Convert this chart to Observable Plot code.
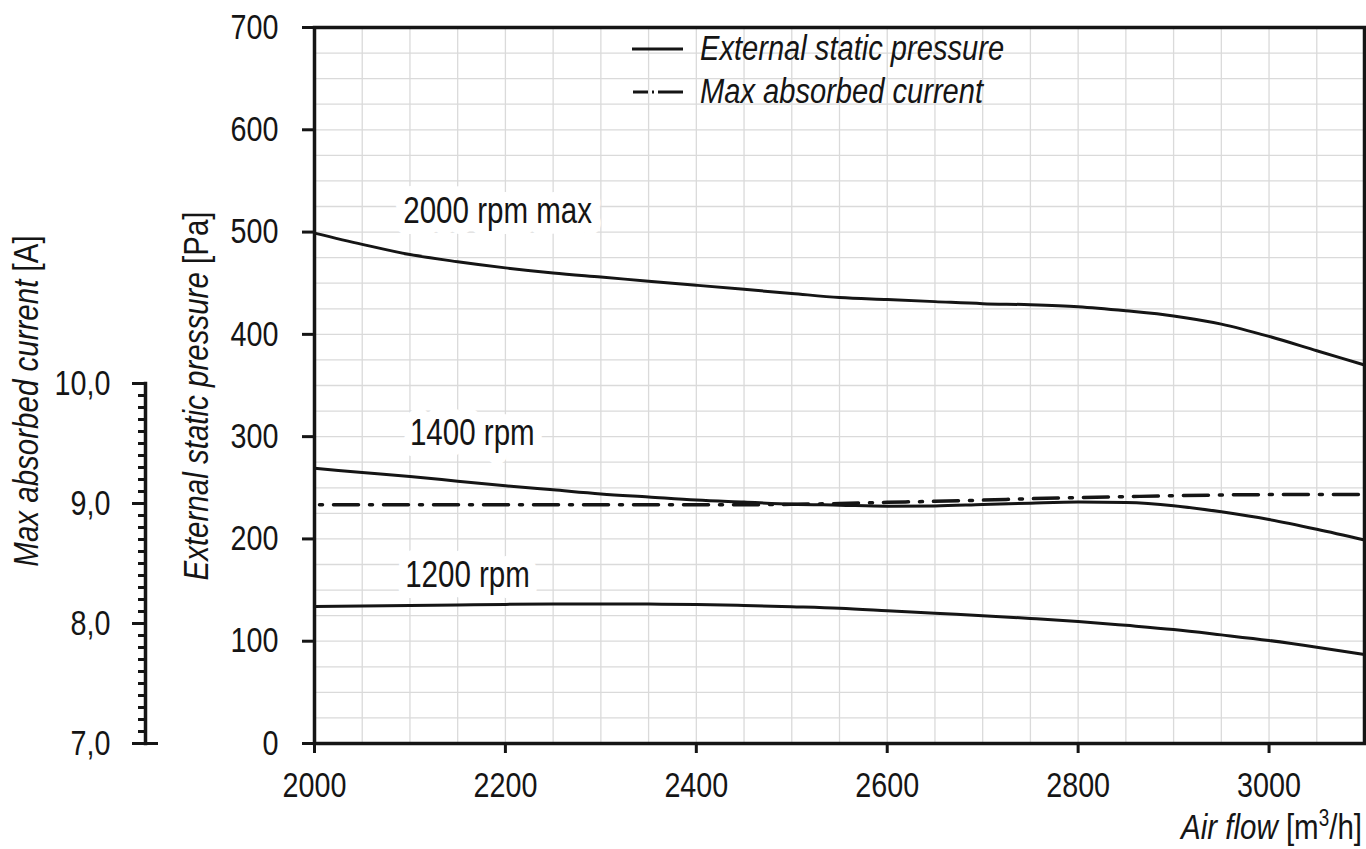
<!DOCTYPE html>
<html><head><meta charset="utf-8">
<script src="https://cdn.jsdelivr.net/npm/d3@7"></script>
<script src="https://cdn.jsdelivr.net/npm/@observablehq/plot@0.6"></script>
<style>
html,body{margin:0;padding:0;background:#fff;overflow:hidden;}
#wrap{position:relative;width:1366px;height:849px;}
#wrap svg{position:absolute;left:0;top:0;}
</style></head><body><div id="wrap"></div>
<script>
const FONT = '"Liberation Sans",Arial,Helvetica,sans-serif';
const CONDENSE = 0.82;

// Air flow [m3/h]
const airflow = [2000, 2050, 2100, 2150, 2200, 2250, 2300, 2350, 2400, 2450, 2500, 2550, 2600, 2650, 2700, 2750, 2800, 2850, 2900, 2950, 3000, 3050, 3100];
// External static pressure [Pa]
const pressure2000 = [499, 488, 478, 471, 465, 460, 456, 452, 448, 444, 440, 436, 434, 432, 430, 429, 427, 423, 418, 410, 398, 384, 370];
const pressure1400 = [269, 265, 261, 256.5, 252, 248, 244, 241, 238, 236, 234, 233, 232, 232.3, 233.7, 235, 236, 235.5, 232.5, 226.5, 219, 209.5, 199];
const pressure1200 = [134, 134.5, 135, 135.5, 136, 136.3, 136.5, 136.3, 136, 135, 133.7, 132.2, 129.8, 127.3, 125, 122.3, 119.3, 115.5, 111.4, 106.2, 100.7, 94.2, 87];
// Max absorbed current [A]
const currentMax = [8.99, 8.99, 8.99, 8.99, 8.99, 8.99, 8.99, 8.99, 8.99, 8.99, 8.993, 9.0, 9.01, 9.018, 9.028, 9.04, 9.049, 9.057, 9.065, 9.071, 9.074, 9.075, 9.075];

const speeds = ["2000 rpm max", "1400 rpm", "1200 rpm"];
const labelAirflow = [2093, 2100, 2095];
const labelPressure = [520, 303, 164];

const airflowTicks = [2000, 2200, 2400, 2600, 2800, 3000];
const pressureTicks = [0, 100, 200, 300, 400, 500, 600, 700];
const currentTicks = [7, 8, 9, 10];
const currentMinorTicks = [7.1, 7.2, 7.3, 7.4, 7.5, 7.6, 7.7, 7.8, 7.9, 8.1, 8.2, 8.3, 8.4, 8.5, 8.6, 8.7, 8.8, 8.9, 9.1, 9.2, 9.3, 9.4, 9.5, 9.6, 9.7, 9.8, 9.9];
const airflowGrid = d3.range(2000, 3101, 50);
const pressureGrid = d3.range(0, 701, 25);

const series = [pressure2000, pressure1400, pressure1200];
const curves = series.flatMap((vals, i) => vals.map((p, j) => ({airflow: airflow[j], pressure: p, speed: speeds[i]})));
const currentRows = currentMax.map((a, j) => ({airflow: airflow[j], current: a}));
const labels = speeds.map((s, i) => ({text: s, airflow: labelAirflow[i], pressure: labelPressure[i]}));

const INK = "#151515";
const style = {fontFamily: FONT, fontSize: "35px", color: INK, background: "transparent", overflow: "visible"};

const main = Plot.plot({
  width: 1366, height: 849,
  marginLeft: 314, marginRight: 2, marginTop: 27, marginBottom: 106,
  style,
  x: {domain: [2000, 3100], label: null},
  y: {domain: [0, 700], label: null},
  marks: [
    Plot.gridX(airflowGrid, {stroke: "#dadada", strokeOpacity: 1, strokeWidth: 1.3}),
    Plot.gridY(pressureGrid, {stroke: "#dadada", strokeOpacity: 1, strokeWidth: 1.3}),
    Plot.text(labels, {x: "airflow", y: "pressure", text: "text", textAnchor: "start", lineAnchor: "middle",
      fill: INK, stroke: "white", strokeWidth: 22, strokeLinejoin: "round", paintOrder: "stroke", fontSize: 36}),
    Plot.line(curves, {x: "airflow", y: "pressure", z: "speed", curve: "monotone-x", stroke: INK, strokeWidth: 3}),
    Plot.frame({stroke: INK, strokeWidth: 3.5}),
    Plot.axisX(airflowTicks, {tickSize: 10, tickPadding: 19, strokeWidth: 3, label: null, tickFormat: d => String(d)}),
    Plot.axisY(pressureTicks, {tickSize: 12, tickPadding: 24, strokeWidth: 3, label: null, tickFormat: d => String(d)})
  ]
});

const second = Plot.plot({
  width: 1366, height: 849,
  marginLeft: 145, marginRight: 2, marginTop: 383, marginBottom: 106,
  style,
  x: {domain: [2000, 3100], range: [314, 1364], label: null, axis: null},
  y: {domain: [7, 10], range: [743, 383], label: null},
  marks: [
    Plot.line(currentRows, {x: "airflow", y: "current", curve: "monotone-x", stroke: INK, strokeWidth: 3.5,
      strokeDasharray: "25,11,3,11", strokeDashoffset: 31}),
    Plot.frame({anchor: "left", stroke: INK, strokeWidth: 3.5}),
    Plot.axisY(currentMinorTicks, {anchor: "left", tickSize: 7, strokeWidth: 3, tickFormat: () => "", label: null}),
    Plot.axisY(currentTicks, {anchor: "left", tickSize: 13, tickPadding: 22, strokeWidth: 3, label: null,
      tickFormat: d => d.toFixed(1).replace(".", ",")}),
    Plot.axisY([7], {anchor: "left", tickSize: -13, strokeWidth: 3, tickFormat: () => "", label: null})
  ]
});

const wrap = document.getElementById("wrap");
wrap.appendChild(main);
wrap.appendChild(second);

// condense Plot's own texts horizontally (narrow Helvetica look)
wrap.querySelectorAll("text").forEach(t => {
  const w = t.getComputedTextLength();
  if (w > 0) {
    t.setAttribute("textLength", (w * CONDENSE).toFixed(1));
    t.setAttribute("lengthAdjust", "spacingAndGlyphs");
  }
});

// titles and legend (condensed via a horizontal scale)
const ov = d3.select(wrap).append("svg")
  .attr("width", 1366).attr("height", 849)
  .style("font-family", FONT).style("font-size", "36px").attr("fill", INK);

const yt = ov.append("g").attr("transform", "translate(208,396) rotate(-90) scale(" + CONDENSE + ",1)")
  .append("text").attr("text-anchor", "middle");
yt.append("tspan").attr("font-style", "italic").text("External static pressure");
yt.append("tspan").text(" [Pa]");

const at = ov.append("g").attr("transform", "translate(38,401) rotate(-90) scale(" + CONDENSE + ",1)")
  .append("text").attr("text-anchor", "middle");
at.append("tspan").attr("font-style", "italic").text("Max absorbed current");
at.append("tspan").text(" [A]");

const xt = ov.append("g").attr("transform", "translate(1362,839) scale(" + CONDENSE + ",1)")
  .append("text").attr("text-anchor", "end");
xt.append("tspan").attr("font-style", "italic").text("Air flow");
xt.append("tspan").text(" [m");
xt.append("tspan").attr("font-size", "23px").attr("dy", -13).text("3");
xt.append("tspan").attr("dy", 13).text("/h]");

ov.append("line").attr("x1", 632).attr("x2", 683).attr("y1", 49).attr("y2", 49).attr("stroke", INK).attr("stroke-width", 3);
ov.append("line").attr("x1", 633).attr("x2", 683).attr("y1", 92).attr("y2", 92).attr("stroke", INK).attr("stroke-width", 3)
  .attr("stroke-dasharray", "15,4,2,4,25");
ov.append("g").attr("transform", "translate(700,60) scale(" + CONDENSE + ",1)")
  .append("text").attr("font-style", "italic").style("font-size", "35.5px").text("External static pressure");
ov.append("g").attr("transform", "translate(700,103) scale(" + CONDENSE + ",1)")
  .append("text").attr("font-style", "italic").style("font-size", "35.5px").text("Max absorbed current");
</script></body></html>
